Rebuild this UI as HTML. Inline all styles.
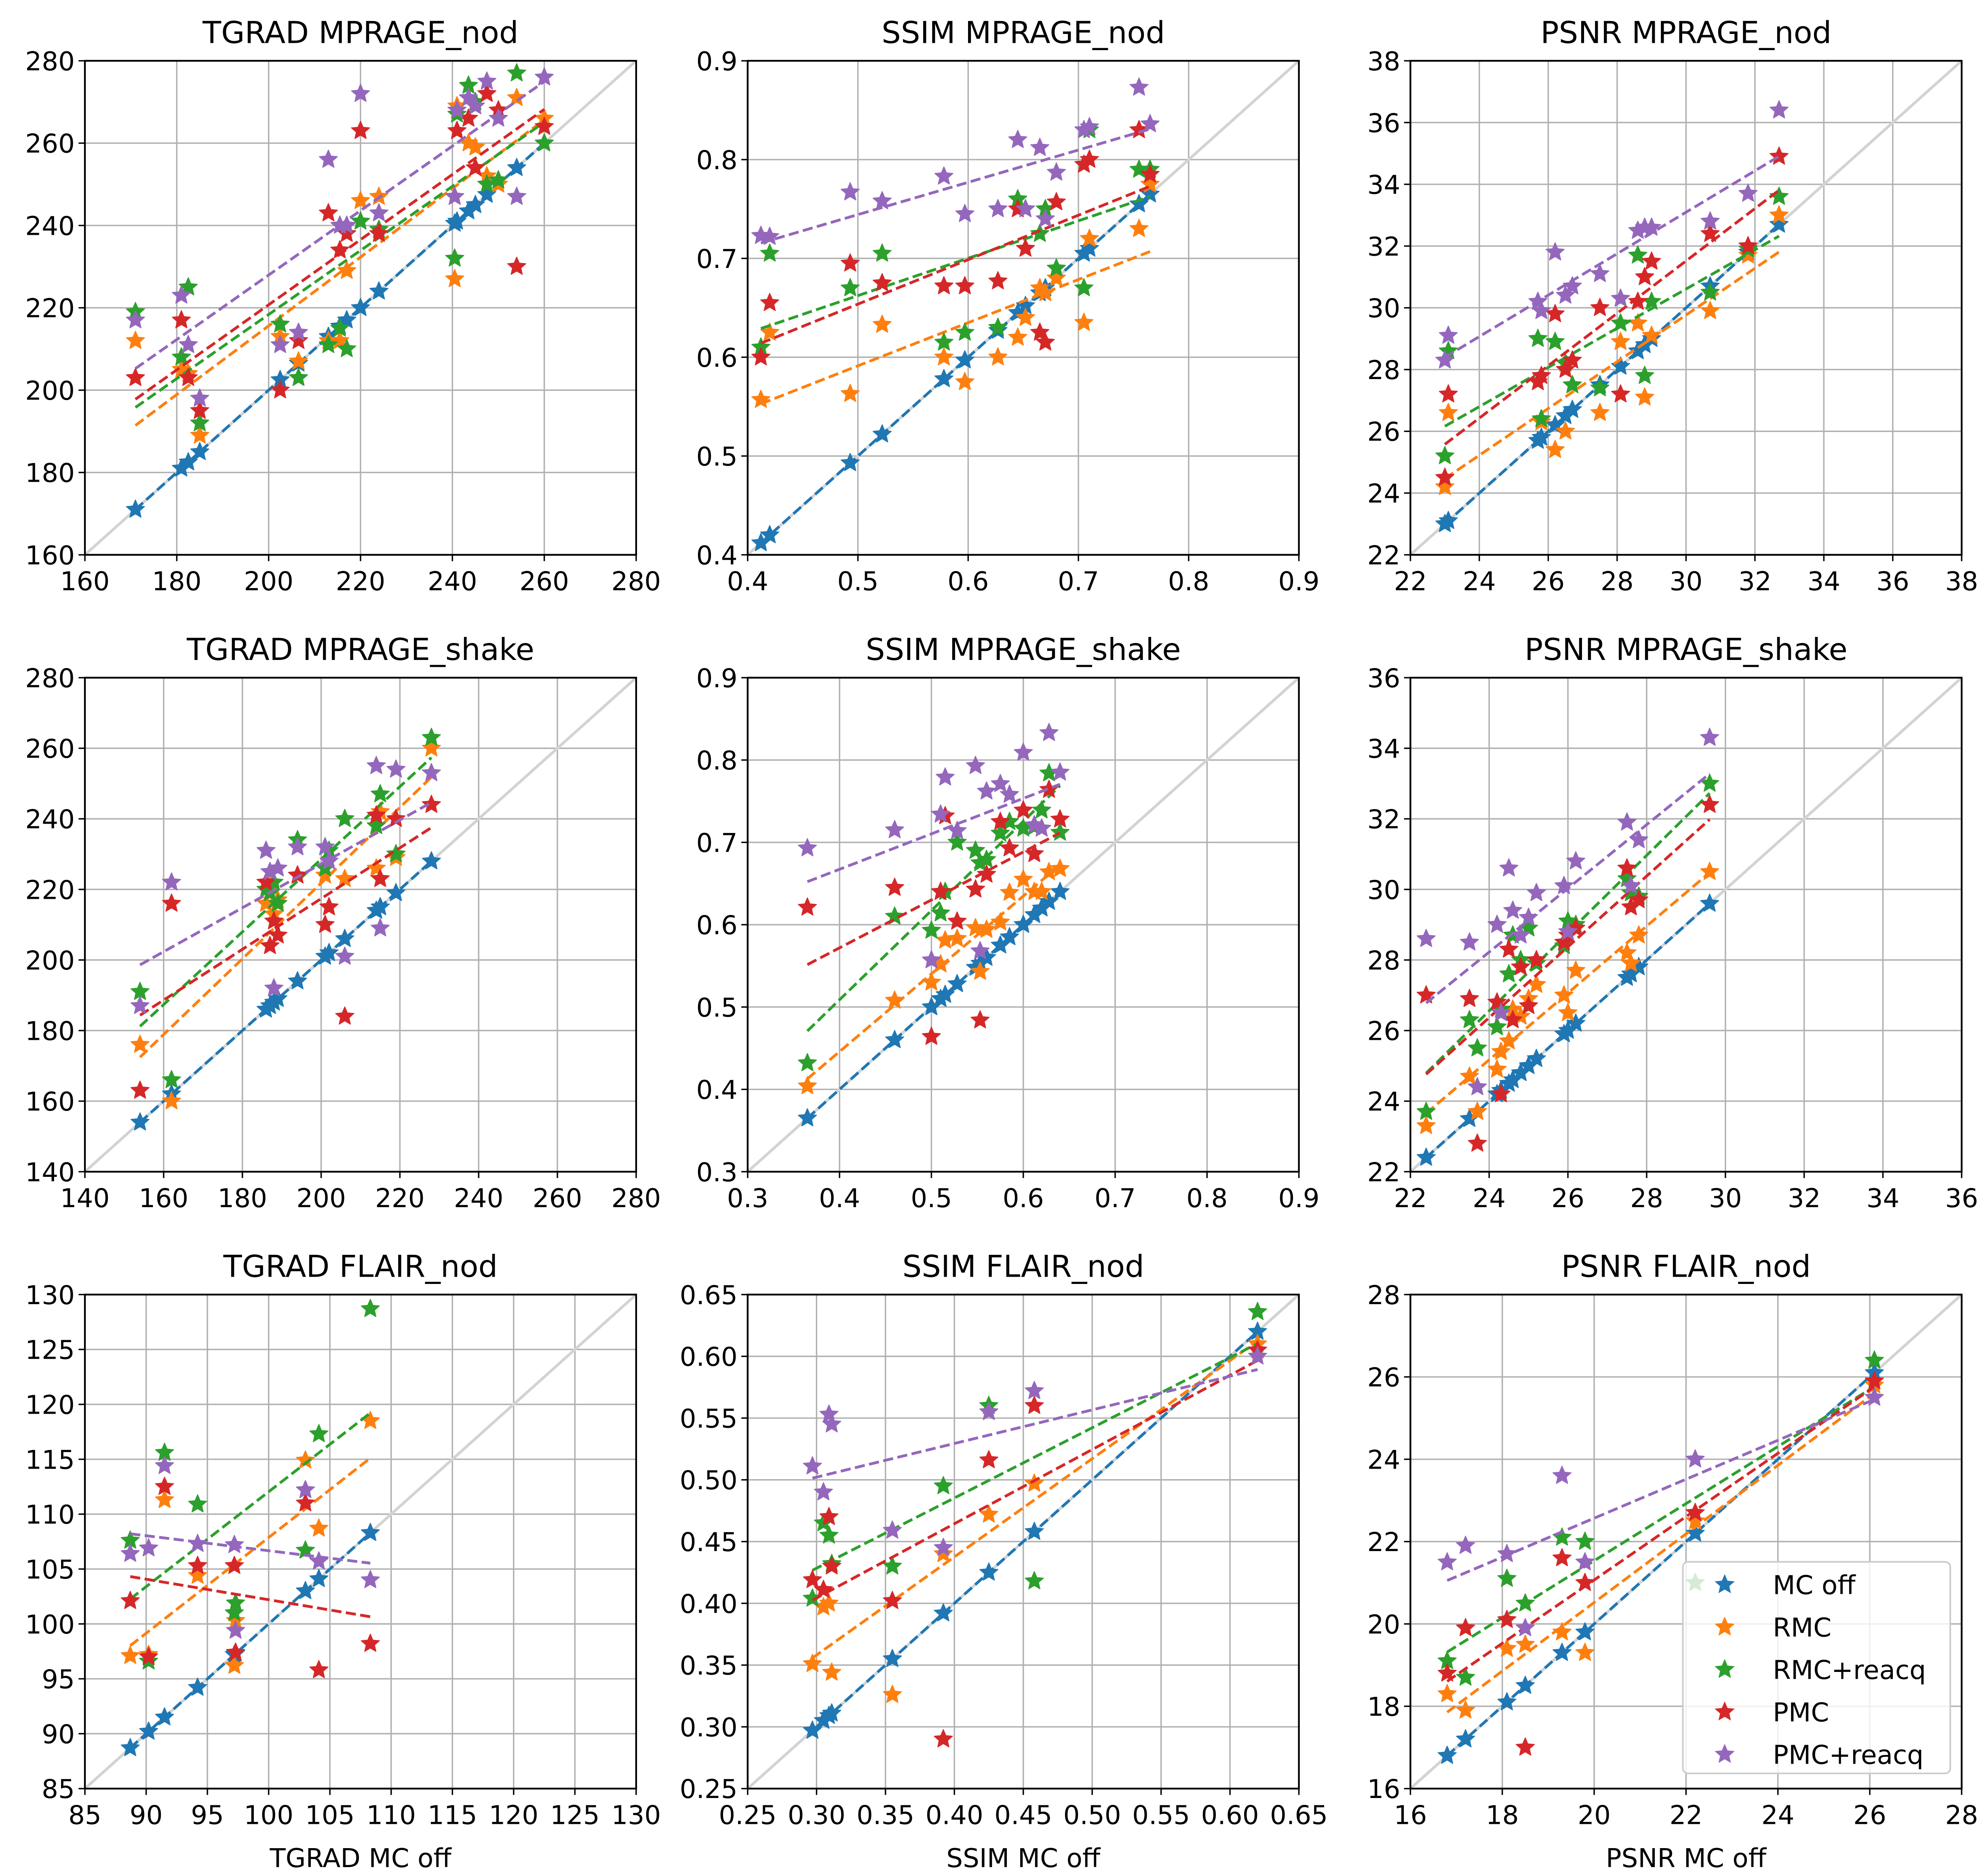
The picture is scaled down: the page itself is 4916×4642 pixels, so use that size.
<!DOCTYPE html>
<html><head><meta charset="utf-8"><style>
html,body{margin:0;padding:0;background:#fff;}
svg{display:block;}
text{font-family:"DejaVu Sans","Liberation Sans",sans-serif;fill:#000;}
</style></head><body>
<svg id="fig" xmlns="http://www.w3.org/2000/svg" width="4916" height="4642" viewBox="0 0 1568 1481" preserveAspectRatio="none"></svg>
<script>
// ---- Panel 1: TGRAD MPRAGE_nod ----
const p1_mcoff=[171,181,182.5,185,202.5,206.5,213,215.5,217,220,224,240.5,241,243.5,245,247.5,250,254,260];
const p1_rmc  =[212,205,204,189,213,207,212,212,229,246,247,227,269,260,259,252,250,271,266];
const p1_rmcr =[219,208,225,192,216,203,211,215,210,241,239,232,267,274,270,250,251,277,260];
const p1_pmc  =[203,217,203,195,200,212,243,234,238,263,238,247,263,266,254,272,268,230,264];
const p1_pmcr =[217,223,211,198,211,214,256,240,240,272,243,247,268,271,269,275,266,247,276];
// ---- Panel 2: SSIM MPRAGE_nod ----
const p2_mcoff=[0.412,0.42,0.493,0.522,0.578,0.597,0.627,0.645,0.652,0.665,0.67,0.68,0.705,0.71,0.755,0.765];
const p2_rmc  =[0.557,0.625,0.563,0.633,0.60,0.575,0.60,0.62,0.64,0.67,0.665,0.68,0.635,0.72,0.73,0.775];
const p2_rmcr =[0.61,0.705,0.67,0.705,0.615,0.625,0.63,0.76,0.75,0.725,0.75,0.69,0.67,0.83,0.79,0.79];
const p2_pmc  =[0.60,0.655,0.695,0.675,0.672,0.672,0.677,0.75,0.71,0.625,0.615,0.757,0.795,0.80,0.83,0.785];
const p2_pmcr =[0.723,0.722,0.767,0.758,0.783,0.745,0.75,0.82,0.75,0.812,0.74,0.787,0.83,0.833,0.873,0.836];
// ---- Panel 3: PSNR MPRAGE_nod ----
const p3_mcoff=[23.0,23.1,25.7,25.8,26.2,26.5,26.7,27.5,28.1,28.6,28.8,29.0,30.7,31.8,32.7];
const p3_rmc  =[24.2,26.6,27.6,26.3,25.4,26.0,27.5,26.6,28.9,29.5,27.1,29.1,29.9,31.7,33.0];
const p3_rmcr =[25.2,28.6,29.0,26.4,28.9,28.2,27.5,27.4,29.5,31.7,27.8,30.2,30.5,31.9,33.6];
const p3_pmc  =[24.5,27.2,27.6,27.8,29.8,28.0,28.3,30.0,27.2,30.2,31.0,31.5,32.4,32.0,34.9];
const p3_pmcr =[28.3,29.1,30.2,29.9,31.8,30.4,30.7,31.1,30.3,32.5,32.6,32.6,32.8,33.7,36.4];
// ---- Panel 4: TGRAD MPRAGE_shake ----
const p4_mcoff=[154,162,186,187,188,189,194,201,202,206,214,215,219,228];
const p4_rmc  =[176,160,216,221,213,217,224,224,215,223,226,242,229,260];
const p4_rmcr =[191,166,220,219,222,216,234,226,231,240,238,247,230,263];
const p4_pmc  =[163,216,222,204,211,207,224,210,215,184,241,223,240,244];
const p4_pmcr =[187,222,231,225,192,226,232,232,228,201,255,209,254,253];
// ---- Panel 5: SSIM MPRAGE_shake ----
const p5_mcoff=[0.365,0.46,0.50,0.51,0.515,0.528,0.548,0.553,0.56,0.575,0.585,0.60,0.612,0.62,0.628,0.64];
const p5_rmc  =[0.404,0.508,0.53,0.552,0.581,0.583,0.596,0.543,0.594,0.603,0.639,0.655,0.64,0.64,0.664,0.668];
const p5_rmcr =[0.432,0.61,0.593,0.614,0.64,0.70,0.69,0.675,0.679,0.711,0.725,0.717,0.719,0.739,0.784,0.712];
const p5_pmc  =[0.621,0.645,0.464,0.64,0.732,0.604,0.643,0.484,0.661,0.725,0.693,0.739,0.686,0.717,0.764,0.728];
const p5_pmcr =[0.693,0.715,0.557,0.734,0.779,0.714,0.793,0.568,0.762,0.771,0.758,0.809,0.721,0.717,0.833,0.785];
// ---- Panel 6: PSNR MPRAGE_shake ----
const p6_mcoff=[22.4,23.5,23.7,24.2,24.3,24.5,24.6,24.8,25.0,25.2,25.9,26.0,26.2,27.5,27.6,27.8,29.6];
const p6_rmc  =[23.3,24.7,23.7,24.9,25.4,25.7,26.6,26.4,26.9,27.3,27.0,26.5,27.7,28.2,27.9,28.7,30.5];
const p6_rmcr =[23.7,26.3,25.5,26.1,26.6,27.6,28.7,28.0,28.9,27.9,28.4,29.1,29.0,30.3,29.9,29.8,33.0];
const p6_pmc  =[27.0,26.9,22.8,26.8,24.2,28.3,26.3,27.8,26.7,28.0,28.5,28.7,28.9,30.6,29.5,29.7,32.4];
const p6_pmcr =[28.6,28.5,24.4,29.0,26.5,30.6,29.4,28.7,29.2,29.9,30.1,28.8,30.8,31.9,30.1,31.4,34.3];
// ---- Panel 7: TGRAD FLAIR_nod ----
const p7_mcoff=[88.7,90.2,91.5,94.2,97.2,97.3,103.0,104.1,108.3];
const p7_rmc  =[97.1,97.2,111.3,104.4,96.2,100.3,114.9,108.7,118.5];
const p7_rmcr =[107.6,96.6,115.6,110.9,101.0,101.9,106.7,117.3,128.7];
const p7_pmc  =[102.1,97.0,112.5,105.3,105.3,97.4,111.0,95.8,98.2];
const p7_pmcr =[106.4,106.9,114.4,107.3,107.2,99.4,112.2,105.7,104.0];
// ---- Panel 8: SSIM FLAIR_nod ----
const p8_mcoff=[0.297,0.305,0.309,0.311,0.355,0.392,0.425,0.458,0.62];
const p8_rmc  =[0.351,0.397,0.40,0.344,0.326,0.44,0.472,0.497,0.61];
const p8_rmcr =[0.404,0.465,0.455,0.432,0.43,0.495,0.56,0.418,0.636];
const p8_pmc  =[0.419,0.411,0.47,0.43,0.402,0.29,0.516,0.56,0.605];
const p8_pmcr =[0.511,0.49,0.553,0.545,0.459,0.445,0.555,0.572,0.60];
// ---- Panel 9: PSNR FLAIR_nod ----
const p9_mcoff=[16.8,17.2,18.1,18.5,19.3,19.8,22.2,26.1];
const p9_rmc  =[18.3,17.9,19.4,19.5,19.8,19.3,22.5,25.8];
const p9_rmcr =[19.1,18.7,21.1,20.5,22.1,22.0,21.0,26.4];
const p9_pmc  =[18.8,19.9,20.1,17.0,21.6,21.0,22.7,25.9];
const p9_pmcr =[21.5,21.9,21.7,19.9,23.6,21.5,24.0,25.5];

const seriesNames=["MC off","RMC","RMC+reacq","PMC","PMC+reacq"];
const colors=["#1f77b4","#ff7f0e","#2ca02c","#d62728","#9467bd"];

const NS="http://www.w3.org/2000/svg";
const svg=document.getElementById("fig");
function mk(tag,attrs,parent){const e=document.createElementNS(NS,tag);for(const k in attrs)e.setAttribute(k,attrs[k]);(parent||svg).appendChild(e);return e;}
function starPath(cx,cy,R){const r=R*0.46;let d="";for(let i=0;i<10;i++){const a=-Math.PI/2+i*Math.PI/5;const rr=i%2?r:R;d+=(i?"L":"M")+(cx+rr*Math.cos(a)).toFixed(2)+","+(cy+rr*Math.sin(a)).toFixed(2);}return d+"Z";}

const cols=[67,590,1113], rows=[48,535,1022], W=435, H=390;
const FS=20.5, TFS=24;
const panels=[
 {t:"TGRAD MPRAGE_nod",xl:"",r:0,c:0,x0:160,x1:280,y0:160,y1:280,st:20,dec:0,d:[p1_mcoff,p1_rmc,p1_rmcr,p1_pmc,p1_pmcr]},
 {t:"SSIM MPRAGE_nod",xl:"",r:0,c:1,x0:0.4,x1:0.9,y0:0.4,y1:0.9,st:0.1,dec:1,d:[p2_mcoff,p2_rmc,p2_rmcr,p2_pmc,p2_pmcr]},
 {t:"PSNR MPRAGE_nod",xl:"",r:0,c:2,x0:22,x1:38,y0:22,y1:38,st:2,dec:0,d:[p3_mcoff,p3_rmc,p3_rmcr,p3_pmc,p3_pmcr]},
 {t:"TGRAD MPRAGE_shake",xl:"",r:1,c:0,x0:140,x1:280,y0:140,y1:280,st:20,dec:0,d:[p4_mcoff,p4_rmc,p4_rmcr,p4_pmc,p4_pmcr]},
 {t:"SSIM MPRAGE_shake",xl:"",r:1,c:1,x0:0.3,x1:0.9,y0:0.3,y1:0.9,st:0.1,dec:1,d:[p5_mcoff,p5_rmc,p5_rmcr,p5_pmc,p5_pmcr]},
 {t:"PSNR MPRAGE_shake",xl:"",r:1,c:2,x0:22,x1:36,y0:22,y1:36,st:2,dec:0,d:[p6_mcoff,p6_rmc,p6_rmcr,p6_pmc,p6_pmcr]},
 {t:"TGRAD FLAIR_nod",xl:"TGRAD MC off",r:2,c:0,x0:85,x1:130,y0:85,y1:130,st:5,dec:0,d:[p7_mcoff,p7_rmc,p7_rmcr,p7_pmc,p7_pmcr]},
 {t:"SSIM FLAIR_nod",xl:"SSIM MC off",r:2,c:1,x0:0.25,x1:0.65,y0:0.25,y1:0.65,st:0.05,dec:2,d:[p8_mcoff,p8_rmc,p8_rmcr,p8_pmc,p8_pmcr]},
 {t:"PSNR FLAIR_nod",xl:"PSNR MC off",r:2,c:2,x0:16,x1:28,y0:16,y1:28,st:2,dec:0,d:[p9_mcoff,p9_rmc,p9_rmcr,p9_pmc,p9_pmcr],legend:true}
];

panels.forEach((p,pi)=>{
 const L=cols[p.c], T=rows[p.r];
 const sx=v=>L+(v-p.x0)/(p.x1-p.x0)*W;
 const sy=v=>T+H-(v-p.y0)/(p.y1-p.y0)*H;
 const g=mk("g",{});
 
 
 const title=mk("text",{x:L+W/2,y:T-14,"text-anchor":"middle","font-size":TFS},g);
 title.textContent=p.t;
 
 
 const n=Math.round((p.x1-p.x0)/p.st);
 for(let i=0;i<=n;i++){
  const v=p.x0+i*p.st;
  const X=sx(v), Y=sy(v);
  const gx=mk("line",{x1:X,y1:T,x2:X,y2:T+H,stroke:"#b0b0b0","stroke-width":1.1},g);
  
  
  const gy=mk("line",{x1:L,y1:Y,x2:L+W,y2:Y,stroke:"#b0b0b0","stroke-width":1.1},g);
  
  
  mk("line",{x1:X,y1:T+H,x2:X,y2:T+H+5,stroke:"#000","stroke-width":1.1},g);
  mk("line",{x1:L-5,y1:Y,x2:L,y2:Y,stroke:"#000","stroke-width":1.1},g);
  const xt=mk("text",{x:X,y:T+H+28,"text-anchor":"middle","font-size":FS},g);
  xt.textContent=v.toFixed(p.dec);
  
  
  const yt=mk("text",{x:L-8,y:Y+7.5,"text-anchor":"end","font-size":FS},g);
  yt.textContent=v.toFixed(p.dec);
  
  
 }
 const diag=mk("line",{x1:L,y1:T+H,x2:L+W,y2:T,stroke:"#d3d3d3","stroke-width":2.2},g);
 
 
 const xs=p.d[0];
 p.d.forEach((ys,si)=>{
  const sg=mk("g",{},g);
  
  
  xs.forEach((xv,k)=>{
   const yv=si===0?xv:ys[k];
   const m=mk("path",{d:starPath(sx(xv),sy(yv),7.6),fill:colors[si],stroke:colors[si],"stroke-width":0.6,"stroke-linejoin":"round"},sg);
   
   
  });
  const yv=xs.map((x,k)=>si===0?x:ys[k]);
  const nn=xs.length, mx=xs.reduce((a,b)=>a+b)/nn, my=yv.reduce((a,b)=>a+b)/nn;
  let sxy=0,sxx=0;xs.forEach((x,k)=>{sxy+=(x-mx)*(yv[k]-my);sxx+=(x-mx)*(x-mx);});
  const b=sxy/sxx, a=my-b*mx;
  const xa=Math.min(...xs), xb=Math.max(...xs);
  const fl=mk("line",{x1:sx(xa),y1:sy(a+b*xa),x2:sx(xb),y2:sy(a+b*xb),stroke:colors[si],"stroke-width":2.2,"stroke-dasharray":"8,3.5"},sg);
  
  
 });
 const fr=mk("rect",{x:L,y:T,width:W,height:H,fill:"none",stroke:"#000","stroke-width":1.4},g);
 
 
 if(p.xl){
  const xl=mk("text",{x:L+W/2,y:1474,"text-anchor":"middle","font-size":FS},g);
  xl.textContent=p.xl;
  
  
 }
 if(p.legend){
  const lg=mk("g",{},g);
  
  
  mk("rect",{x:1328,y:1233,width:211,height:167,rx:4,fill:"#fff","fill-opacity":0.8,stroke:"#cccccc","stroke-width":1.3},lg);
  seriesNames.forEach((nm,i)=>{
   const yy=1251+i*33.5;
   const e=mk("g",{},lg);
   
   
   mk("path",{d:starPath(1361,yy,7.6),fill:colors[i],stroke:colors[i],"stroke-width":0.6},e);
   const tx=mk("text",{x:1399,y:yy+7.5,"font-size":FS},e);
   tx.textContent=nm;
  });
 }
});
</script>
</body></html>
